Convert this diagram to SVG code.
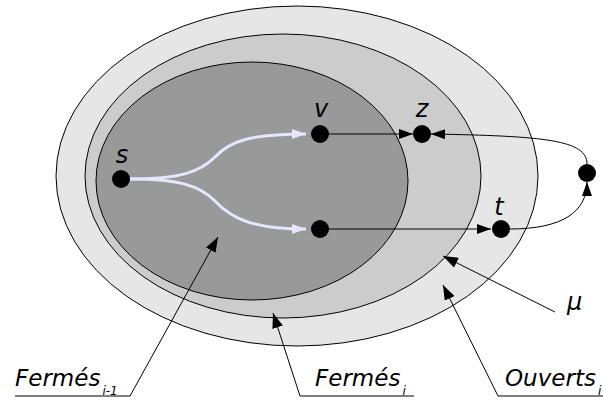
<svg xmlns="http://www.w3.org/2000/svg" width="603" height="403" viewBox="0 0 603 403">
<defs>
<style>
.lab{font-family:"DejaVu Sans","Liberation Sans",sans-serif;font-style:italic;fill:#000}
.big{font-size:23px}
.node{font-size:24px}
.sub{font-size:12px}
.set{stroke:#000;stroke-width:1}
.ln{fill:none;stroke:#000;stroke-width:1}
.lav{fill:none;stroke:#e6e6ff;stroke-width:3}
</style>
<marker id="ab" markerUnits="userSpaceOnUse" markerWidth="15" markerHeight="11" refX="15" refY="5.5" orient="auto">
<path d="M0,0 L15,5.5 L0,11 z" fill="#000"/>
</marker>
<marker id="ae" markerUnits="userSpaceOnUse" markerWidth="14" markerHeight="10" refX="14" refY="5" orient="auto">
<path d="M0,0 L14,5 L0,10 z" fill="#000"/>
</marker>
<marker id="al" markerUnits="userSpaceOnUse" markerWidth="14" markerHeight="10" refX="14" refY="5" orient="auto">
<path d="M0,0 L14,5 L0,10 z" fill="#e6e6ff"/>
</marker>
</defs>
<g id="ouverts">
<ellipse class="set" cx="297" cy="176" rx="241" ry="170" fill="#e6e6e6"/>
</g>
<g id="fermes-i">
<ellipse class="set" cx="283" cy="176" rx="198" ry="142" fill="#cccccc"/>
</g>
<g id="fermes-i-1">
<ellipse class="set" cx="252" cy="181" rx="156" ry="119" fill="#999999"/>
</g>
<g id="connectors">
<path class="lav" d="M130,179 C180,179 200,172 215,157 C230,141 250,134 306,134" marker-end="url(#al)"/>
<path class="lav" d="M130,179 C180,179 200,186 215,201 C230,217 250,229 306,229" marker-end="url(#al)"/>
<line class="ln" x1="329" y1="134" x2="413" y2="134" marker-end="url(#ae)"/>
<path class="ln" d="M587,164 C587,140 545,136 431,134" marker-end="url(#ae)"/>
<line class="ln" x1="329" y1="229" x2="491" y2="229" marker-end="url(#ae)"/>
<path class="ln" d="M510,229 C562,229 587,212 587,182" marker-end="url(#ae)"/>
<polyline class="ln" points="15,396 130,396 218,237" marker-end="url(#ab)"/>
<polyline class="ln" points="414,396 300,396 273,313" marker-end="url(#ab)"/>
<polyline class="ln" points="603,396 498,396 443,285" marker-end="url(#ab)"/>
<line class="ln" x1="555" y1="312" x2="443" y2="256" marker-end="url(#ab)"/>
</g>
<g id="s"><circle cx="121" cy="179" r="9"/><text class="lab node" x="122" y="163" text-anchor="middle">s</text></g>
<g id="v"><circle cx="320" cy="134" r="9"/><text class="lab node" x="321" y="117" text-anchor="middle">v</text></g>
<g id="z"><circle cx="422" cy="134" r="9"/><text class="lab node" x="422" y="117" text-anchor="middle">z</text></g>
<g id="u"><circle cx="320" cy="229" r="9"/></g>
<g id="t"><circle cx="501" cy="229" r="9"/><text class="lab node" x="499" y="215" text-anchor="middle">t</text></g>
<g id="w"><circle cx="587" cy="173" r="9"/></g>
<g id="mu"><text class="lab node" x="567" y="310">μ</text></g>
<g id="label-fermes-i-1"><text class="lab big" x="15" y="386">Fermés<tspan class="sub" dx="2" dy="9">i-1</tspan></text></g>
<g id="label-fermes-i"><text class="lab big" x="315" y="386">Fermés<tspan class="sub" dx="2" dy="9">i</tspan></text></g>
<g id="label-ouverts-i"><text class="lab big" x="505" y="386">Ouverts<tspan class="sub" dx="2" dy="9">i</tspan></text></g>
</svg>
